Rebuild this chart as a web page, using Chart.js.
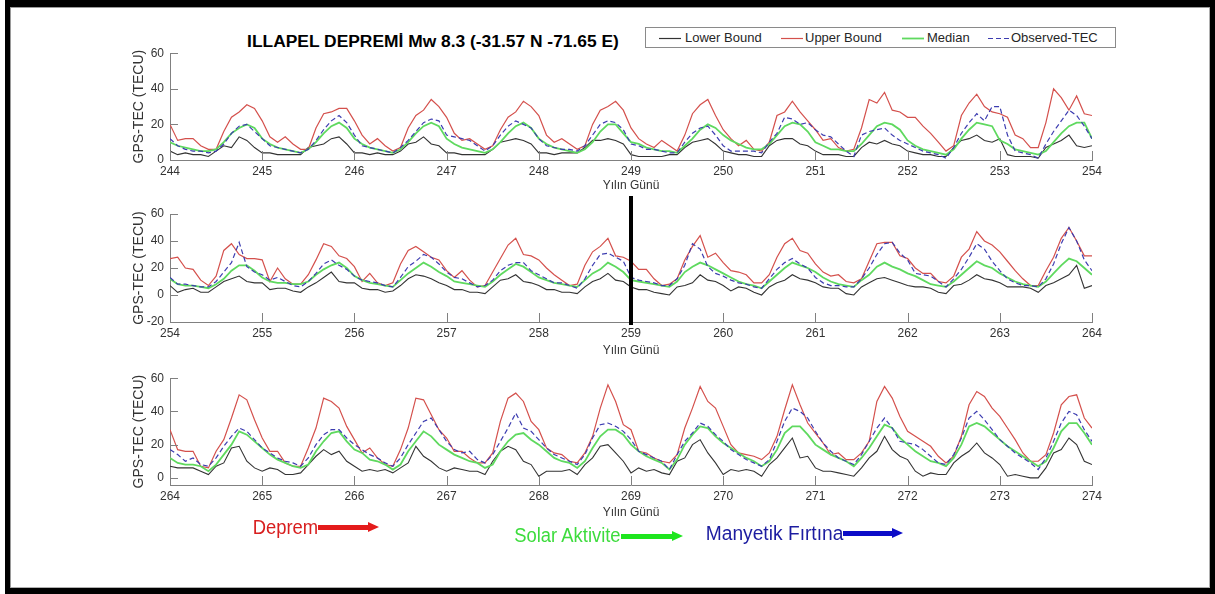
<!DOCTYPE html>
<html>
<head>
<meta charset="utf-8">
<script src="https://cdn.jsdelivr.net/npm/chart.js@4.4.1/dist/chart.umd.min.js"></script>
<style>
html,body{margin:0;padding:0;background:#fff;}
body{width:1215px;height:594px;position:relative;overflow:hidden;font-family:'Liberation Sans',Arial,sans-serif;}
#frame{position:absolute;left:5px;top:0;width:1210px;height:594px;box-sizing:border-box;border-style:solid;border-color:#000;border-width:7px 5px 6px 5px;box-shadow:inset 1px 1px 0 #9a9a9a, inset -1px -1px 0 #b0b0b0;}
canvas{position:absolute;left:0;}
#c1{top:40px;}
#c2{top:190px;}
#c3{top:365px;}
#title{position:absolute;left:433px;top:41px;transform:translate(-50%,-50%);font-weight:bold;font-size:17.4px;color:#000;white-space:nowrap;}
#legend{position:absolute;left:645px;top:27px;width:471px;height:21px;box-sizing:border-box;border:1px solid #8a8a8a;background:#fff;}
.lt{position:absolute;top:30px;font-size:13px;line-height:16px;color:#262626;white-space:nowrap;}
.ann{position:absolute;font-size:20px;line-height:20px;white-space:nowrap;transform-origin:right center;}
.shaft{position:absolute;height:5px;}
.head{position:absolute;width:0;height:0;border-top:5.5px solid transparent;border-bottom:5.5px solid transparent;}
</style>
</head>
<body>
<div id="frame"></div>
<div id="title">ILLAPEL DEPREMİ Mw 8.3 (-31.57 N -71.65 E)</div>
<div id="legend"></div>
<svg width="1215" height="60" style="position:absolute;left:0;top:0">
  <line x1="659" y1="38.5" x2="681" y2="38.5" stroke="#333" stroke-width="1.2"/>
  <line x1="781" y1="38.5" x2="803" y2="38.5" stroke="#d4504c" stroke-width="1.2"/>
  <line x1="902" y1="38.5" x2="924" y2="38.5" stroke="#5fd95f" stroke-width="1.8"/>
  <line x1="988" y1="38.5" x2="1009" y2="38.5" stroke="#3c3cb0" stroke-width="1.2" stroke-dasharray="5,3"/>
</svg>
<div class="lt" style="left:685px">Lower Bound</div>
<div class="lt" style="left:805px">Upper Bound</div>
<div class="lt" style="left:927px">Median</div>
<div class="lt" style="left:1011px">Observed-TEC</div>

<canvas id="c1" width="1215" height="160"></canvas>
<canvas id="c2" width="1215" height="175"></canvas>
<canvas id="c3" width="1215" height="160"></canvas>

<div class="ann" style="right:897px;top:517px;color:#d81e1e;transform:scaleX(0.92)">Deprem</div>
<div class="shaft" style="left:318px;top:525px;width:51px;background:#e41b1b"></div>
<div class="head" style="left:368px;top:522px;border-left:11px solid #e41b1b"></div>

<div class="ann" style="right:594px;top:525px;color:#3ddc3d;transform:scaleX(0.92)">Solar Aktivite</div>
<div class="shaft" style="left:621px;top:534px;width:52px;background:#1ee61e"></div>
<div class="head" style="left:672px;top:531px;border-left:11px solid #1ee61e"></div>

<div class="ann" style="right:372px;top:523px;color:#1c1ca0;transform:scaleX(0.96)">Manyetik Fırtına</div>
<div class="shaft" style="left:843px;top:531px;width:50px;background:#0c0cc8"></div>
<div class="head" style="left:892px;top:528px;border-left:11px solid #0c0cc8"></div>

<script>
// ---------- data (2-hour samples, 12 per day) ----------
const STEPS_PER_DAY = 12;
const START_1 = 244, START_2 = 254, START_3 = 264;
const X_TICKS_1 = [244,245,246,247,248,249,250,251,252,253,254];
const X_TICKS_2 = [254,255,256,257,258,259,260,261,262,263,264];
const X_TICKS_3 = [264,265,266,267,268,269,270,271,272,273,274];
const Y_TICKS_1 = [0,20,40,60];
const Y_TICKS_2 = [-20,0,20,40,60];
const Y_TICKS_3 = [0,20,40,60];
const EVENT_DAY = 259;
const SERIES_NAMES = ['Lower Bound','Upper Bound','Median','Observed-TEC'];

const lower1 = [
5,3,4,3,3,2,5,8,7,13,11,7,
4,4,3,3,3,3,7,8,9,12,13,9,
4,4,3,4,3,3,5,9,10,13,9,8,
4,4,3,3,3,3,6,10,11,12,11,9,
4,4,3,4,4,4,7,11,11,12,11,9,
3,2,2,2,2,3,3,7,10,11,12,9,
5,4,3,3,2,2,8,11,12,12,9,8,
5,3,3,3,2,2,7,10,9,11,9,8,
5,4,3,3,2,2,7,11,12,14,11,10,
12,3,2,2,2,1,7,9,11,14,8,7,
8];
const upper1 = [
20,11,12,12,8,6,6,16,24,27,31,29,
22,13,10,13,9,6,6,18,26,27,29,29,
22,14,9,12,8,5,7,18,25,28,34,30,
24,15,11,12,9,6,8,17,24,27,33,30,
25,14,10,12,9,6,8,20,28,30,33,28,
18,12,9,7,11,8,5,14,26,31,34,25,
17,12,8,11,6,5,10,25,27,33,27,22,
17,11,12,7,5,6,18,34,32,38,28,27,
24,24,19,15,10,5,8,25,32,37,30,27,
26,24,14,12,7,7,21,40,35,28,36,26,
25];
const median1 = [
10,8,7,6,5,5,6,10,15,18,20,18,
12,9,7,6,5,4,6,10,15,19,21,18,
12,9,7,6,5,4,6,10,15,19,21,19,
12,9,7,6,5,4,6,10,15,19,21,18,
12,9,7,6,5,4,6,10,16,20,20,15,
10,9,7,6,5,5,4,8,12,17,20,18,
14,11,9,7,6,6,9,14,19,21,20,16,
10,8,6,6,5,5,9,14,19,21,20,17,
11,8,6,5,4,3,6,12,17,21,20,19,
11,9,6,5,4,3,5,10,15,19,21,21,
12];
const observed1 = [
12,8,6,5,5,4,5,9,15,19,20,16,
12,8,7,6,5,4,6,11,17,22,25,21,
14,8,7,6,5,4,7,11,16,21,23,22,
14,13,12,11,8,5,8,14,19,22,20,18,
12,8,7,6,6,5,8,14,20,22,21,17,
9,8,6,6,5,4,4,10,15,18,19,14,
8,5,5,5,5,4,10,15,24,23,20,21,
17,14,13,9,5,2,14,16,17,18,14,11,
9,7,5,4,3,1,7,15,21,26,22,30,
30,14,5,4,3,1,9,16,22,28,25,19,
12];

const lower2 = [
7,2,4,5,2,2,6,10,12,14,10,9,
9,4,5,5,3,2,6,9,13,17,10,9,
9,5,4,4,2,3,7,12,15,14,12,9,
7,4,4,2,2,1,6,11,12,15,10,9,
7,4,4,2,2,1,6,10,12,16,11,10,
6,4,4,2,1,0,6,7,9,15,11,10,
7,3,6,5,2,0,6,9,11,15,12,11,
9,6,5,5,1,0,6,9,12,13,11,9,
7,6,6,5,2,1,7,8,11,15,12,11,
9,6,6,6,5,2,7,9,12,15,22,5,
7];
const upper2 = [
27,28,20,19,11,7,14,33,38,30,27,27,
26,10,20,12,8,8,15,26,38,36,29,27,
21,10,16,9,7,9,23,33,36,32,28,26,
18,13,18,11,6,7,17,27,37,42,30,29,
26,20,15,11,7,8,22,32,36,42,29,28,
25,19,19,12,7,8,12,26,36,44,28,31,
24,18,17,15,9,9,15,28,38,42,33,31,
23,17,14,15,10,9,12,25,38,39,39,29,
27,20,16,16,10,9,14,28,34,47,40,37,
32,25,18,12,7,7,18,28,42,50,40,29,
29];
const median2 = [
12,8,7,7,6,5,8,12,18,22,22,18,
13,10,9,9,8,8,10,15,19,22,24,20,
14,11,9,8,7,6,11,16,20,24,21,17,
14,10,9,8,7,6,10,15,19,23,21,17,
13,11,9,8,7,6,11,16,19,24,21,17,
11,10,9,8,7,6,10,17,21,24,22,19,
16,13,10,8,7,5,10,15,20,24,22,20,
17,13,10,8,7,6,11,15,21,24,21,19,
16,14,11,8,7,6,10,15,20,25,22,20,
16,13,10,8,7,6,10,16,22,27,25,20,
15];
const observed2 = [
13,8,8,7,6,6,10,17,24,39,21,17,
15,11,13,10,7,6,10,16,23,26,22,19,
14,11,10,9,7,6,13,21,25,30,28,23,
17,13,12,9,6,7,11,18,22,24,24,18,
15,12,9,9,7,5,12,22,30,31,28,25,
13,11,10,9,7,7,12,22,38,34,21,16,
14,11,9,8,6,5,12,19,24,27,23,20,
13,9,7,7,6,6,12,20,30,38,39,31,
26,16,15,14,10,6,12,19,28,38,34,25,
18,12,9,7,7,6,12,23,38,50,40,26,
18];

const lower3 = [
7,6,6,6,4,2,7,9,18,19,10,6,
4,6,5,2,2,3,8,13,17,14,16,10,
7,4,5,4,5,3,6,9,19,13,10,6,
4,6,5,4,4,2,10,16,19,17,10,8,
1,4,4,4,5,2,8,12,19,20,15,10,
3,6,4,5,3,2,10,12,20,23,15,9,
2,5,4,5,4,1,8,12,18,24,12,13,
6,4,4,3,2,1,6,12,16,25,17,13,
11,4,1,3,2,2,9,13,16,21,15,12,
8,1,2,1,0,0,6,15,17,24,20,10,
8];
const upper3 = [
29,17,16,16,7,6,16,23,36,50,47,35,
24,16,16,9,7,7,18,30,48,46,42,31,
23,15,18,12,8,7,17,30,48,47,38,29,
24,16,16,12,9,9,15,34,48,51,46,34,
29,18,15,14,10,9,15,25,42,56,46,32,
29,16,15,12,10,9,14,30,42,55,46,42,
31,20,15,14,13,11,15,25,41,56,44,33,
27,21,14,15,11,11,15,22,46,55,48,37,
28,25,22,19,13,9,13,25,44,52,49,42,
37,30,23,15,10,10,14,27,44,49,50,36,
30];
const median3 = [
12,9,8,8,7,4,8,14,20,28,26,22,
18,14,11,9,7,6,8,16,22,27,28,22,
17,15,11,10,8,5,8,16,22,28,25,20,
17,14,12,10,9,6,8,16,22,26,27,23,
20,16,12,10,9,6,10,18,25,29,29,26,
20,16,13,11,9,5,11,20,26,31,30,25,
21,18,15,12,10,7,10,17,27,31,31,26,
20,17,14,12,10,7,12,18,25,32,30,24,
20,16,13,10,9,7,12,20,31,33,31,27,
23,19,16,13,10,7,10,18,28,33,33,27,
20];
const observed3 = [
17,14,10,12,8,7,12,19,25,30,28,23,
18,15,12,10,9,7,12,20,26,29,29,24,
20,17,14,12,9,7,12,20,27,34,36,29,
22,17,15,16,11,9,14,22,30,39,30,28,
23,18,14,12,10,8,14,24,32,33,31,28,
23,16,14,12,10,5,14,22,27,33,31,26,
22,17,14,11,9,7,11,22,34,42,40,36,
28,21,16,12,10,8,14,22,30,36,30,22,
21,20,17,13,9,8,14,24,36,40,35,29,
23,19,15,12,9,5,12,22,33,40,38,29,
22];

// ---------- styling ----------
const FONT = "'Liberation Sans', Arial, sans-serif";
const AXIS = '#808080';
const TXT = '#333333';
const COLORS = {low:'#333333', up:'#d4504c', med:'#5fd95f', obs:'#3c3cb0'};

function toPoints(start, vals){
  return vals.map((v,i)=>({x: start + i/STEPS_PER_DAY, y: v}));
}

const inwardTicks = {
  id:'inwardTicks',
  afterDraw(chart){
    const {ctx, chartArea:{left,bottom}, scales:{x,y}} = chart;
    ctx.save();
    ctx.strokeStyle = AXIS; ctx.lineWidth = 1;
    ctx.beginPath();
    x.ticks.forEach(t=>{
      const px = Math.round(x.getPixelForValue(t.value)) + 0.5;
      ctx.moveTo(px, bottom); ctx.lineTo(px, bottom - 9);
    });
    y.ticks.forEach(t=>{
      const py = Math.round(y.getPixelForValue(t.value)) + 0.5;
      ctx.moveTo(left, py); ctx.lineTo(left + 8, py);
    });
    ctx.stroke();
    ctx.restore();
  }
};

const eventLine = {
  id:'eventLine',
  afterDraw(chart, args, opts){
    if (opts.day == null) return;
    const {ctx, chartArea:{bottom}, scales:{x}} = chart;
    const px = Math.round(x.getPixelForValue(opts.day));
    ctx.save();
    ctx.fillStyle = '#000';
    ctx.fillRect(px - 2, opts.top, 4, bottom + 3 - opts.top);
    ctx.restore();
  }
};

function makePanel(cfg){
  const ctx = document.getElementById(cfg.id).getContext('2d');
  return new Chart(ctx, {
    type:'line',
    data:{datasets:[
      {label:SERIES_NAMES[3], data:toPoints(cfg.start,cfg.obs), borderColor:COLORS.obs, borderWidth:1.2, borderDash:[5,3]},
      {label:SERIES_NAMES[2], data:toPoints(cfg.start,cfg.med), borderColor:COLORS.med, borderWidth:1.8},
      {label:SERIES_NAMES[1], data:toPoints(cfg.start,cfg.up), borderColor:COLORS.up, borderWidth:1.2},
      {label:SERIES_NAMES[0], data:toPoints(cfg.start,cfg.low), borderColor:COLORS.low, borderWidth:1.1}
    ]},
    options:{
      responsive:false, animation:false, devicePixelRatio:1,
      elements:{point:{radius:0}, line:{tension:0, fill:false}},
      layout:{padding:{left:125, right:123, top:cfg.padTop, bottom:0}},
      plugins:{legend:{display:false}, tooltip:{enabled:false}, eventLine:cfg.event || {}},
      scales:{
        x:{
          type:'linear', min:cfg.start, max:cfg.start+10,
          afterBuildTicks:s=>{ s.ticks = cfg.xTicks.map(v=>({value:v})); },
          afterFit:s=>{ s.height = cfg.xH; },
          grid:{display:false, drawTicks:false},
          border:{display:true, color:AXIS, width:1},
          ticks:{font:{family:FONT,size:12}, color:TXT, padding:4, maxRotation:0, autoSkip:false},
          title:{display:true, text:'Yılın Günü', font:{family:FONT,size:12}, color:TXT, padding:{top:0,bottom:cfg.xTitlePad}}
        },
        y:{
          type:'linear', min:cfg.yMin, max:cfg.yMax,
          afterBuildTicks:s=>{ s.ticks = cfg.yTicks.map(v=>({value:v})); },
          afterFit:s=>{ s.width = 45; },
          grid:{display:false, drawTicks:false},
          border:{display:true, color:AXIS, width:1},
          ticks:{font:{family:FONT,size:12}, color:TXT, padding:6},
          title:{display:true, text:'GPS-TEC (TECU)', font:{family:FONT,size:14}, color:TXT, padding:{top:6,bottom:0}}
        }
      }
    },
    plugins: cfg.event ? [inwardTicks, eventLine] : [inwardTicks]
  });
}

makePanel({id:'c1', start:START_1, xTicks:X_TICKS_1, yTicks:Y_TICKS_1, yMin:0, yMax:60,
  low:lower1, up:upper1, med:median1, obs:observed1, padTop:10, xH:40, xTitlePad:7});
makePanel({id:'c2', start:START_2, xTicks:X_TICKS_2, yTicks:Y_TICKS_2, yMin:-20, yMax:60,
  low:lower2, up:upper2, med:median2, obs:observed2, padTop:24, xH:43, xTitlePad:7,
  event:{day:EVENT_DAY, top:6}});
makePanel({id:'c3', start:START_3, xTicks:X_TICKS_3, yTicks:Y_TICKS_3, yMin:-4.3, yMax:60,
  low:lower3, up:upper3, med:median3, obs:observed3, padTop:13, xH:40, xTitlePad:5});
</script>
</body>
</html>
